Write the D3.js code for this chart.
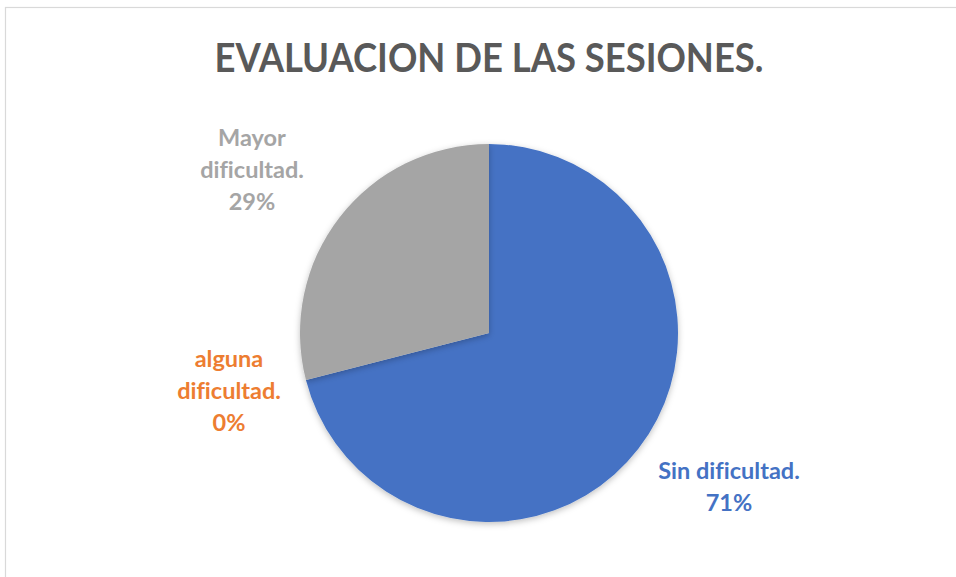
<!DOCTYPE html>
<html>
<head>
<meta charset="utf-8">
<script src="https://cdn.jsdelivr.net/npm/d3@7"></script>
<style>
  body { margin: 0; background: #fff; }
  svg { display: block; }
</style>
</head>
<body>
<div id="chart"></div>
<script>
// chart data
var categories = ["Sin dificultad.", "alguna dificultad.", "Mayor dificultad."];
var values = [71, 0, 29];
var title = "EVALUACION DE LAS SESIONES.";

var width = 956, height = 577;
var cx = 489, cy = 333, radius = 189;

var colors = d3.scaleOrdinal()
    .domain(categories)
    .range(["#4472c4", "#ed7d31", "#a5a5a5"]);

// where each data label block sits (center x, first baseline)
var labelPos = {
    "Sin dificultad.": {x: 729, y: 479, lines: ["Sin dificultad."]},
    "alguna dificultad.": {x: 229, y: 367, lines: ["alguna", "dificultad."]},
    "Mayor dificultad.": {x: 252, y: 146, lines: ["Mayor", "dificultad."]}
};

var svg = d3.select("#chart").append("svg")
    .attr("width", width)
    .attr("height", height)
    .style("font-family", "Lato, 'Open Sans', sans-serif")
    .style("font-variant-ligatures", "none");

// chart area border
svg.append("rect")
    .attr("x", 5.5).attr("y", 7.5)
    .attr("width", 1000).attr("height", 1000)
    .attr("fill", "#fff")
    .attr("stroke", "#d9d9d9")
    .attr("stroke-width", 1.2);

var defs = svg.append("defs");
var f = defs.append("filter").attr("id", "shadow")
    .attr("x", "-20%").attr("y", "-20%").attr("width", "140%").attr("height", "140%");
f.append("feDropShadow")
    .attr("dx", 0).attr("dy", 2).attr("stdDeviation", 3)
    .attr("flood-color", "#000").attr("flood-opacity", 0.25);

svg.append("text")
    .attr("x", 489).attr("y", 72)
    .attr("text-anchor", "middle")
    .attr("font-size", 41)
    .attr("font-weight", "bold")
    .attr("fill", "#595959")
    .attr("textLength", 549)
    .attr("lengthAdjust", "spacingAndGlyphs")
    .text(title);

var data = categories.map(function(c, i) { return {name: c, value: values[i]}; });

var pie = d3.pie()
    .sort(null)
    .value(function(d) { return d.value; });

var arc = d3.arc()
    .innerRadius(0)
    .outerRadius(radius);

var g = svg.append("g")
    .attr("transform", "translate(" + cx + "," + cy + ")");

g.selectAll("path")
    .data(pie(data))
    .enter()
    .append("path")
    .attr("d", arc)
    .attr("fill", function(d) { return colors(d.data.name); })
    .attr("filter", "url(#shadow)");

// data labels
var total = d3.sum(values);
data.forEach(function(d) {
    var p = labelPos[d.name];
    var lines = p.lines.concat([Math.round(d.value / total * 100) + "%"]);
    var t = svg.append("text")
        .attr("text-anchor", "middle")
        .attr("font-size", 23.5)
        .attr("font-weight", "bold")
        .attr("fill", colors(d.name));
    lines.forEach(function(l, i) {
        t.append("tspan")
            .attr("x", p.x)
            .attr("y", p.y + i * 32)
            .text(l);
    });
});
</script>
</body>
</html>
